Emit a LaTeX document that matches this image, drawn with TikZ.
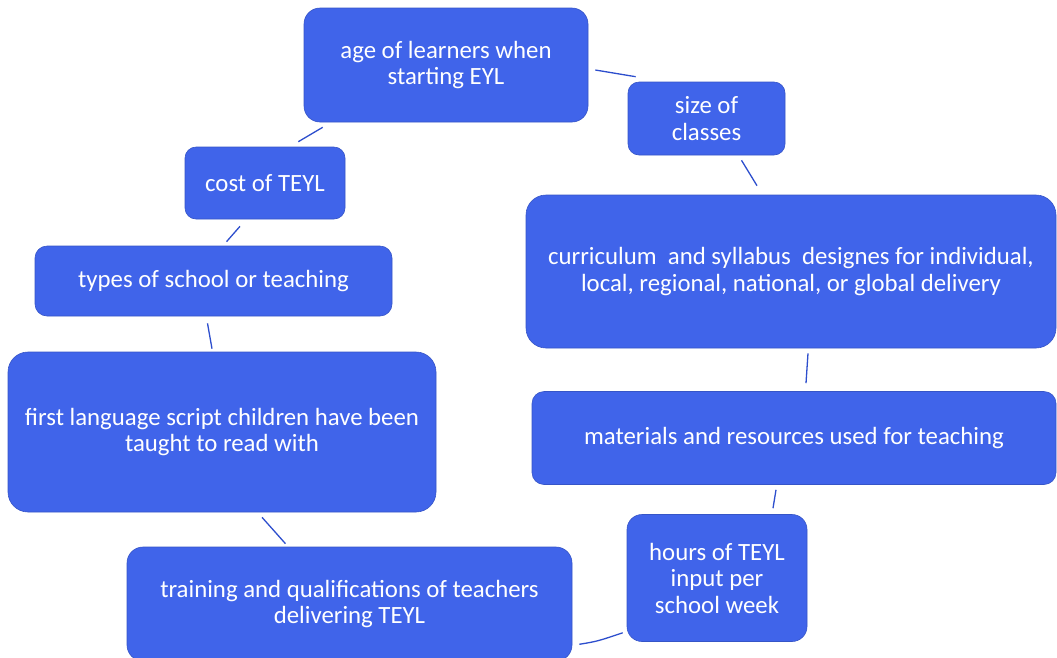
\documentclass[tikz,border=0pt]{standalone}
\usepackage{fontspec}
\setmainfont{Carlito}
\usetikzlibrary{calc}
\definecolor{boxblue}{RGB}{64,100,234}
\definecolor{lineblue}{RGB}{45,78,205}
\begin{document}
\begin{tikzpicture}[x=1pt,y=-1pt,
  box/.style={fill=boxblue,draw=boxblue!85!black,line width=0.6pt,rounded corners=16pt,
    text=white,align=center,inner sep=0pt,font=\fontsize{24.8}{26.5}\selectfont},
  conn/.style={draw=lineblue,line width=1.3pt}]
\useasboundingbox (0,0) rectangle (1057,657);
\node[box,minimum width=284,minimum height=114] (age) at (446,65) {age of learners when\\starting EYL};
\node[box,rounded corners=11pt,minimum width=157,minimum height=73] (size) at (706.5,118.5) {size of\\classes};
\node[box,rounded corners=11pt,minimum width=160,minimum height=72] (cost) at (265,183) {cost of TEYL};
\node[box,rounded corners=12pt,minimum width=357,minimum height=70] (types) at (213.5,281) {types of school or teaching};
\node[box,rounded corners=20pt,minimum width=530,minimum height=153] (curr) at (791,271.5) {curriculum \ and syllabus \ designes for individual,\\local, regional, national, or global delivery};
\node[box,rounded corners=20pt,minimum width=428,minimum height=160] (first) at (222,432) {first language script children have been\\taught to read with};
\node[box,rounded corners=12pt,minimum width=524,minimum height=93] (mat) at (794,438) {materials and resources used for teaching};
\node[box,rounded corners=15pt,minimum width=180,minimum height=127] (hours) at (717,578) {hours of TEYL\\input per\\school week};
\node[box,rounded corners=16pt,minimum width=445,minimum height=114] (train) at (349.5,604) {training and qualifications of teachers\\delivering TEYL};

\draw[conn] ($(age.east)+(7,5)$) -- ($(size.north west)+(8,-5)$);
\draw[conn] ($(age.south west)+(19,5)$) -- ($(cost.north east)+(-47,-5)$);
\draw[conn] ($(cost.south)+(-25,7)$) -- ($(types.north)+(13,-4)$);
\draw[conn] ($(types.south)+(-6,7)$) -- ($(first.north)+(-10,-3)$);
\draw[conn] ($(first.south)+(40,5)$) -- ($(train.north)+(-64,-3)$);
\draw[conn] ($(train.south east)+(7,-17)$) .. controls ($(train.south east)+(25,-20)$) .. ($(hours.south west)+(-4,-9)$);
\draw[conn] ($(mat.south)+(-18,5)$) -- ($(hours.north)+(56,-6)$);
\draw[conn] ($(curr.south)+(17,5)$) -- ($(mat.north)+(12,-8)$);
\draw[conn] ($(size.south)+(35,5)$) -- ($(curr.north)+(-34,-9)$);
\end{tikzpicture}
\end{document}
